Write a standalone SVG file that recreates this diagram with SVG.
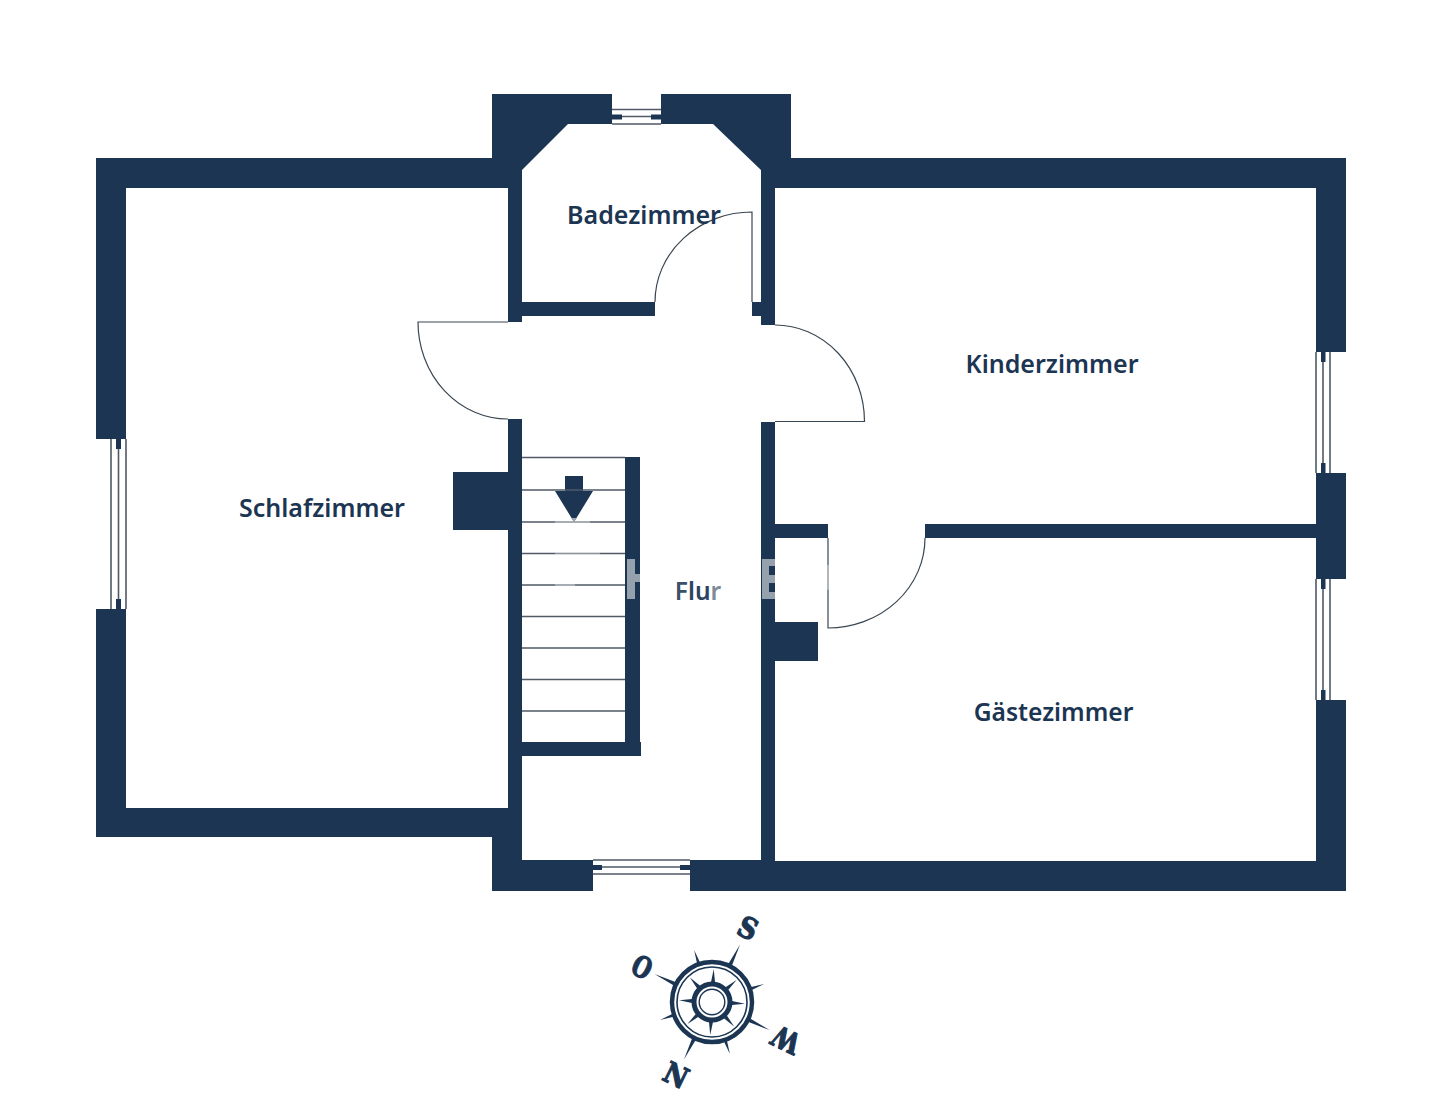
<svg xmlns="http://www.w3.org/2000/svg" width="1440" height="1112" viewBox="0 0 1440 1112">
<style>
.w{fill:#1b3553}
.l{fill:none;stroke:#4f5a66;stroke-width:1.6}
.a{fill:none;stroke:#3a4652;stroke-width:1.2}
.t{font-family:"Noto Sans","Open Sans",sans-serif;font-weight:600;font-size:25px;fill:#1b3553;text-anchor:middle}
.c{font-family:"DejaVu Serif",serif;font-weight:700;font-size:29px;fill:#1b3553;stroke:#1b3553;stroke-width:1.2;text-anchor:middle}
.r{fill:none;stroke:#1b3553}
</style>
<rect width="1440" height="1112" fill="#fff"/>
<g id="walls">
<path class="w" d="M96 158H492V94H612V124H568L522 170V322H508V188H126V439H96ZM96 609H126V808H508V419H522V742H625V457H640V742H641V756H522V860H593V891H492V837H96Z"/>
<path class="w" d="M661 94H791V158H1346V352H1316V188H775V325H761V170L713 124H661ZM761 422H775V524H828V538H775V861H1316V700H1346V891H690V860H761ZM925 524H1316V473H1346V579H1316V538H925Z"/>
<rect class="w" x="522" y="302" width="133" height="14"/>
<rect class="w" x="752" y="302" width="9" height="14"/>
<rect class="w" x="453" y="472" width="55" height="58"/>
<rect class="w" x="775" y="622" width="43" height="39"/>
<path class="w" d="M565 476H583V491H593L574 522L555 491H565Z"/>
</g>
<g id="windows">
<path class="l" d="M612 109.500H661M612 116.500H661M612 124H661M593 860H690M593 867H690M593 874H690M111 439V609M118.500 439V609M126 439V609M1316 352V473M1323 352V473M1330 352V473M1316 579V700M1323 579V700M1330 579V700"/>
<path class="w" d="M612 114.500h10v5h-10zM651 114.500h10v5h-10zM593 865h9v5h-9zM680 865h10v5h-10zM116 439h5v10h-5zM116 599h5v10h-5zM1321 352h4.500v10h-4.500zM1321 463h4.500v10h-4.500zM1321 579h4.500v10h-4.500zM1321 690h4.500v10h-4.500z"/>
</g>
<g id="stairs">
<path class="l" d="M522 457.500H625M522 490H625M522 522H625M522 553.500H625M522 585H625M522 616.500H625M522 648H625M522 679.500H625M522 711H625"/>
</g>
<g id="doors">
<path class="a" d="M655 302A97 90 0 0 1 752 212V302"/>
<path class="a" d="M508 322H418A90 97 0 0 0 508 419"/>
<path class="a" d="M775 325A89.500 96.500 0 0 1 864.500 421.500H775"/>
<path class="a" d="M828 538V628A97 90 0 0 0 925 538"/>
</g>
<g id="labels">
<text class="t" x="322" y="517">Schlafzimmer</text>
<text class="t" x="644" y="224">Badezimmer</text>
<text class="t" x="1052" y="373">Kinderzimmer</text>
<text class="t" x="1053.500" y="721" font-size="24.600" style="font-size:24.600px">Gästezimmer</text>
<text class="t" x="698" y="600" style="font-size:24.500px"><tspan fill="#3c5069">F</tspan><tspan fill="#2c4463">lu</tspan><tspan fill="#7f8b99">r</tspan></text>
</g>
<g id="watermark">
<path fill="#96a1ae" d="M627 559h8v15h5v8h-5v17h-8zM762 559h13v7h-6v9h6v8h-6v9h6v7h-13z"/>
<path fill="none" stroke="#fff" stroke-opacity=".35" stroke-width="2" d="M555 522H590M555 553.500H600M555 585H575M828 565V590"/>
<path fill="#9aa6b3" d="M571.500 518h5L574 522.500z"/>
</g>
<g id="compass" transform="translate(712 1002)">
<circle class="r" r="40" stroke-width="4.500"/>
<circle class="r" r="35" stroke-width="1.600"/>
<circle class="r" r="18" stroke-width="5"/>
<circle class="r" r="12.800" stroke-width="1.400"/>
<g class="w" id="spikes">
<path d="M-2 -20L0 -33L2 -20Z" transform="rotate(3)"/>
<path d="M-2 -20L0 -33L2 -20Z" transform="rotate(48)"/>
<path d="M-2 -20L0 -33L2 -20Z" transform="rotate(93)"/>
<path d="M-2 -20L0 -33L2 -20Z" transform="rotate(138)"/>
<path d="M-2 -20L0 -33L2 -20Z" transform="rotate(183)"/>
<path d="M-2 -20L0 -33L2 -20Z" transform="rotate(228)"/>
<path d="M-2 -20L0 -33L2 -20Z" transform="rotate(273)"/>
<path d="M-2 -20L0 -33L2 -20Z" transform="rotate(318)"/>
<path d="M-2 -41L0 -64L2 -41Z" transform="rotate(26)"/>
<path d="M-2 -41L0 -64L2 -41Z" transform="rotate(116)"/>
<path d="M-2 -41L0 -64L2 -41Z" transform="rotate(206)"/>
<path d="M-2 -41L0 -64L2 -41Z" transform="rotate(296)"/>
<path d="M-1.600 -41L0 -55L1.600 -41Z" transform="rotate(71)"/>
<path d="M-1.600 -41L0 -55L1.600 -41Z" transform="rotate(161)"/>
<path d="M-1.600 -41L0 -55L1.600 -41Z" transform="rotate(251)"/>
<path d="M-1.600 -41L0 -55L1.600 -41Z" transform="rotate(341)"/>
</g>
</g>
<g id="compass-letters">
<text class="c" transform="translate(748 928) rotate(26) scale(.9 1)" y="10.500">S</text>
<text class="c" transform="translate(786 1040) rotate(206) scale(.85 1)" y="10.500">W</text>
<text class="c" transform="translate(676 1075) rotate(26) scale(.9 1)" y="10.500">N</text>
<text class="c" transform="translate(642 967) rotate(26) scale(.75 1)" y="10.500">O</text>
</g>
</svg>
